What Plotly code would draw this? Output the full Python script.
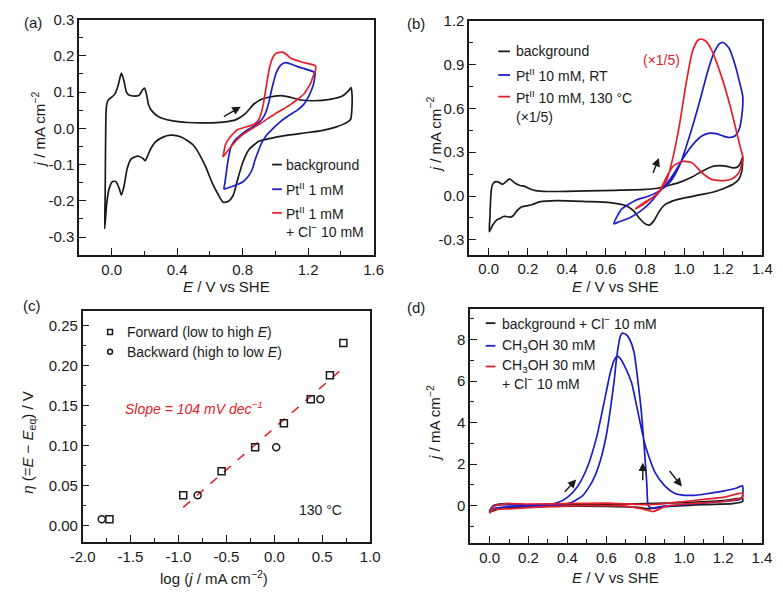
import plotly.graph_objects as go

W, H = 783, 592
FONT = "Liberation Sans, Arial, sans-serif"
BLACK = "#1a1a1a"
BLUE = "#1c1cc8"
RED = "#e3202a"

# ---------------- panel (a) data ----------------
a_bg_E = [-0.043, -0.040, -0.038, -0.035, -0.031, -0.02, 0.0, 0.02, 0.039, 0.059, 0.075, 0.09, 0.108, 0.138, 0.167,
          0.187, 0.2, 0.212, 0.225, 0.245, 0.286, 0.365, 0.463, 0.581, 0.68, 0.76, 0.82, 0.869, 0.919, 0.978, 1.037,
          1.096, 1.156, 1.235, 1.333, 1.412, 1.448, 1.462, 1.468, 1.467, 1.46, 1.44, 1.373, 1.274, 1.175, 1.077, 0.978,
          0.899, 0.84, 0.80, 0.77, 0.741, 0.711, 0.681, 0.652, 0.613, 0.573, 0.502, 0.424, 0.36, 0.31, 0.266, 0.24,
          0.22, 0.205, 0.19, 0.165, 0.14, 0.118, 0.095, 0.075, 0.059, 0.045, 0.025, 0.005, -0.015, -0.03, -0.043]
a_bg_j = [-0.277, -0.18, -0.06, 0.04, 0.065, 0.079, 0.086, 0.095, 0.118, 0.152, 0.13, 0.1, 0.091, 0.089, 0.091,
          0.105, 0.111, 0.095, 0.065, 0.048, 0.032, 0.021, 0.016, 0.015, 0.017, 0.024, 0.042, 0.067, 0.081, 0.087, 0.090,
          0.085, 0.078, 0.076, 0.080, 0.090, 0.104, 0.112, 0.095, 0.05, 0.025, 0.017, 0.004, -0.007, -0.013, -0.019, -0.027,
          -0.036, -0.058, -0.095, -0.14, -0.186, -0.202, -0.204, -0.184, -0.15, -0.105, -0.048, -0.024, -0.019, -0.025, -0.038, -0.055,
          -0.075, -0.089, -0.083, -0.077, -0.079, -0.085, -0.11, -0.16, -0.184, -0.165, -0.147, -0.147, -0.165, -0.205, -0.277]

a_pt_E = [0.686, 0.692, 0.699, 0.712, 0.729, 0.755, 0.778, 0.818, 0.857, 0.906, 0.93, 0.946, 0.962, 0.975, 0.99, 1.005,
          1.034, 1.064, 1.09, 1.15, 1.228, 1.242, 1.24, 1.232, 1.22, 1.204, 1.173, 1.134, 1.094, 1.055, 1.015, 0.975,
          0.946, 0.92, 0.906, 0.876, 0.857, 0.83, 0.80, 0.778, 0.74, 0.699, 0.686]
a_pt_j = [-0.167, -0.15, -0.125, -0.085, -0.051, -0.032, -0.022, -0.008, 0.003, 0.019, 0.033, 0.05, 0.075, 0.103, 0.13, 0.153,
          0.175, 0.181, 0.178, 0.168, 0.157, 0.153, 0.14, 0.12, 0.105, 0.089, 0.066, 0.05, 0.039, 0.027, 0.012, -0.005,
          -0.019, -0.037, -0.051, -0.087, -0.115, -0.135, -0.148, -0.153, -0.16, -0.166, -0.167]

a_ptcl_E = [0.680, 0.684, 0.695, 0.719, 0.768, 0.837, 0.872, 0.896, 0.912, 0.926, 0.946, 0.962, 0.975, 0.99, 1.005, 1.044,
            1.07, 1.094, 1.16, 1.232, 1.245, 1.245, 1.232, 1.212, 1.19, 1.173, 1.13, 1.094, 1.04, 0.995, 0.95, 0.916,
            0.87, 0.818, 0.78, 0.739, 0.71, 0.69, 0.680]
a_ptcl_j = [-0.078, -0.069, -0.045, -0.027, -0.004, 0.006, 0.012, 0.022, 0.04, 0.066, 0.121, 0.163, 0.185, 0.2, 0.207, 0.210,
            0.203, 0.193, 0.183, 0.175, 0.172, 0.16, 0.145, 0.121, 0.105, 0.094, 0.078, 0.066, 0.051, 0.039, 0.026, 0.015,
            0.003, -0.012, -0.025, -0.045, -0.062, -0.073, -0.078]

# ---------------- panel (b) data ----------------
b_bg_E = [0.003, 0.006, 0.009, 0.013, 0.02, 0.035, 0.05, 0.07, 0.09, 0.106, 0.12, 0.138, 0.16, 0.185, 0.21, 0.24, 0.3,
          0.4, 0.5, 0.65, 0.8, 0.87, 0.92, 0.98, 1.04, 1.1, 1.14, 1.18, 1.22, 1.25, 1.275, 1.29, 1.3, 1.295, 1.28, 1.25,
          1.2, 1.14, 1.06, 0.98, 0.93, 0.9, 0.87, 0.845, 0.822, 0.8, 0.77, 0.74, 0.7, 0.62, 0.5, 0.35, 0.26, 0.22, 0.19,
          0.165, 0.145, 0.125, 0.106, 0.09, 0.075, 0.06, 0.04, 0.02, 0.003]
b_bg_j = [-0.244, -0.15, -0.04, 0.04, 0.08, 0.098, 0.095, 0.08, 0.1, 0.117, 0.105, 0.085, 0.072, 0.066, 0.05, 0.037, 0.031,
          0.032, 0.035, 0.039, 0.045, 0.055, 0.072, 0.095, 0.13, 0.175, 0.2, 0.208, 0.203, 0.193, 0.2, 0.23, 0.27, 0.17, 0.115, 0.08,
          0.05, 0.024, 0.003, -0.02, -0.04, -0.06, -0.11, -0.17, -0.199, -0.19, -0.15, -0.1, -0.065, -0.045, -0.038, -0.032, -0.04, -0.06, -0.068,
          -0.076, -0.1, -0.135, -0.145, -0.14, -0.14, -0.152, -0.165, -0.2, -0.244]

b_rt_E = [0.64, 0.68, 0.75, 0.82, 0.88, 0.93, 0.98, 1.03, 1.08, 1.12, 1.15, 1.18, 1.2, 1.23, 1.26, 1.285, 1.3, 1.295, 1.28,
          1.26, 1.23, 1.2, 1.17, 1.13, 1.09, 1.05, 1.0, 0.96, 0.92, 0.88, 0.83, 0.78, 0.72, 0.66, 0.64]
b_rt_j = [-0.19, -0.09, -0.03, 0.0, 0.04, 0.10, 0.22, 0.42, 0.65, 0.85, 0.97, 1.04, 1.05, 1.01, 0.9, 0.77, 0.68, 0.55, 0.45,
          0.41, 0.40, 0.41, 0.425, 0.43, 0.41, 0.36, 0.27, 0.18, 0.10, 0.04, -0.04, -0.10, -0.15, -0.18, -0.19]

b_ht_E = [0.75, 0.798, 0.863, 0.912, 0.944, 0.977, 1.009, 1.042, 1.07, 1.09, 1.11, 1.14, 1.188, 1.237, 1.27, 1.29, 1.30,
          1.295, 1.275, 1.24, 1.2, 1.14, 1.091, 1.042, 0.993, 0.944, 0.912, 0.879, 0.83, 0.781, 0.75]
b_ht_j = [-0.087, -0.043, 0.013, 0.114, 0.271, 0.495, 0.763, 0.987, 1.065, 1.072, 1.06, 1.0, 0.83, 0.607, 0.428, 0.32, 0.27,
          0.22, 0.15, 0.115, 0.105, 0.114, 0.159, 0.226, 0.237, 0.204, 0.136, 0.047, -0.02, -0.065, -0.087]

# ---------------- panel (c) data ----------------
c_fwd_logj = [-1.72, -0.95, -0.55, -0.20, 0.10, 0.38, 0.58, 0.72]
c_fwd_eta = [0.008, 0.038, 0.068, 0.098, 0.128, 0.158, 0.188, 0.228]
c_bwd_logj = [-1.80, -0.80, 0.02, 0.48]
c_bwd_eta = [0.008, 0.038, 0.098, 0.158]
c_fit_logj = [-0.95, 0.72]
c_fit_eta = [0.023, 0.197]

# ---------------- panel (d) data ----------------
d_bg_E = [0.0, 0.02, 0.05, 0.1, 0.15, 0.3, 0.6, 0.8, 1.0, 1.2, 1.3, 1.3, 1.25, 1.1, 0.9, 0.82, 0.75, 0.6, 0.3, 0.1, 0.05, 0.0]
d_bg_j = [-0.3, 0.0, 0.08, 0.1, 0.05, 0.03, 0.05, 0.1, 0.15, 0.25, 0.35, 0.2, 0.1, 0.05, -0.05, -0.15, -0.07, -0.03, -0.03, -0.1, -0.15, -0.3]

d_meoh_E = [0.0, 0.02, 0.1, 0.2, 0.3, 0.35, 0.4, 0.45, 0.5, 0.55, 0.58, 0.6, 0.62, 0.64, 0.655, 0.67, 0.7, 0.73, 0.76, 0.8,
            0.85, 0.9, 0.95, 1.0, 1.05, 1.1, 1.2, 1.27, 1.3, 1.3, 1.29, 1.2, 1.1, 1.0, 0.9, 0.86, 0.83, 0.815, 0.808, 0.797,
            0.78, 0.762, 0.742, 0.72, 0.70, 0.68, 0.67, 0.66, 0.65, 0.64, 0.62, 0.6, 0.57, 0.53, 0.48, 0.42, 0.35, 0.25,
            0.1, 0.02, 0.0]
d_meoh_j = [-0.25, 0.0, 0.05, 0.03, 0.05, 0.15, 0.4, 0.9, 1.8, 3.3, 4.6, 5.5, 6.4, 7.0, 7.2, 7.1, 6.6, 5.9, 4.6, 2.9,
            1.6, 0.95, 0.6, 0.5, 0.5, 0.55, 0.7, 0.85, 0.95, 0.5, 0.3, 0.2, 0.12, 0.05, -0.02, -0.08, -0.12, 0.0, 1.0, 2.5,
            4.5, 6.0, 7.4, 8.0, 8.25, 8.3, 8.1, 7.6, 6.9, 6.0, 4.6, 3.4, 2.2, 1.2, 0.5, 0.15, 0.03, -0.02,
            -0.05, -0.15, -0.25]

d_cl_E = [0.0, 0.02, 0.05, 0.1, 0.2, 0.4, 0.6, 0.8, 0.9, 1.0, 1.1, 1.2, 1.3, 1.3, 1.2, 1.0, 0.9, 0.84, 0.78, 0.7, 0.5,
          0.3, 0.1, 0.02, 0.0]
d_cl_j = [-0.35, -0.05, 0.05, 0.1, 0.08, 0.1, 0.12, 0.05, 0.1, 0.2, 0.3, 0.4, 0.6, 0.4, 0.2, 0.08, -0.05, -0.28, -0.15, -0.02, 0.0,
          -0.05, -0.15, -0.2, -0.35]

# ---------------- tick labels ----------------
a_xticks = [0.0, 0.4, 0.8, 1.2, 1.6]
a_xtext = ["0.0", "0.4", "0.8", "1.2", "1.6"]
a_yticks = [-0.3, -0.2, -0.1, 0.0, 0.1, 0.2, 0.3]
a_ytext = ["-0.3", "-0.2", "-0.1", "0.0", "0.1", "0.2", "0.3"]
b_xticks = [0.0, 0.2, 0.4, 0.6, 0.8, 1.0, 1.2, 1.4]
b_xtext = ["0.0", "0.2", "0.4", "0.6", "0.8", "1.0", "1.2", "1.4"]
b_yticks = [-0.3, 0.0, 0.3, 0.6, 0.9, 1.2]
b_ytext = ["-0.3", "0.0", "0.3", "0.6", "0.9", "1.2"]
c_xticks = [-2.0, -1.5, -1.0, -0.5, 0.0, 0.5, 1.0]
c_xtext = ["-2.0", "-1.5", "-1.0", "-0.5", "0.0", "0.5", "1.0"]
c_yticks = [0.0, 0.05, 0.10, 0.15, 0.20, 0.25]
c_ytext = ["0.00", "0.05", "0.10", "0.15", "0.20", "0.25"]
d_xticks = b_xticks
d_xtext = b_xtext
d_yticks = [0, 2, 4, 6, 8]
d_ytext = ["0", "2", "4", "6", "8"]


def px(x):
    return x / W


def py(y):
    return 1 - y / H


fig = go.Figure()


def curve(E, J, color, n, width=1.7, dash="solid", spline=True):
    fig.add_trace(go.Scatter(
        x=E, y=J, mode="lines",
        line=dict(color=color, width=width, dash=dash,
                  shape="spline" if spline else "linear", smoothing=0.6),
        xaxis="x" + ("" if n == 1 else str(n)), yaxis="y" + ("" if n == 1 else str(n)),
        showlegend=False, hoverinfo="skip"))


curve(a_bg_E, a_bg_j, BLACK, 1)
curve(a_pt_E, a_pt_j, BLUE, 1)
curve(a_ptcl_E, a_ptcl_j, RED, 1)

curve(b_bg_E, b_bg_j, BLACK, 2)
curve(b_rt_E, b_rt_j, BLUE, 2)
curve(b_ht_E, b_ht_j, RED, 2)

curve(c_fit_logj, c_fit_eta, RED, 3, width=1.5, dash="dash", spline=False)
fig.add_trace(go.Scatter(x=c_fwd_logj, y=c_fwd_eta, mode="markers", xaxis="x3", yaxis="y3",
                         marker=dict(symbol="square-open", size=7, color=BLACK, line=dict(width=1.5)),
                         showlegend=False, hoverinfo="skip"))
fig.add_trace(go.Scatter(x=c_bwd_logj, y=c_bwd_eta, mode="markers", xaxis="x3", yaxis="y3",
                         marker=dict(symbol="circle-open", size=7, color=BLACK, line=dict(width=1.5)),
                         showlegend=False, hoverinfo="skip"))

curve(d_bg_E, d_bg_j, BLACK, 4)
curve(d_meoh_E, d_meoh_j, BLUE, 4)
curve(d_cl_E, d_cl_j, RED, 4)


def axis(dom, rng, tv, tt, minor_dtick, minor_tick0, anchor):
    return dict(
        domain=dom, range=rng, tickmode="array", tickvals=tv, ticktext=tt,
        ticks="inside", ticklen=7, tickwidth=1.4, tickcolor=BLACK,
        showline=True, linecolor=BLACK, linewidth=1.5, mirror=True,
        showgrid=False, zeroline=False, anchor=anchor,
        tickfont=dict(size=15, family=FONT, color=BLACK),
        minor=dict(ticks="inside", ticklen=4, tickwidth=1.4, tickcolor=BLACK,
                   dtick=minor_dtick, tick0=minor_tick0, showgrid=False),
    )


# domains (pixels -> paper)
A = dict(x=(68, 371.5), y=(10.7, 250))
B = dict(x=(470, 772), y=(11.7, 249.3))
C = dict(x=(71.7, 368), y=(306.7, 541))
D = dict(x=(471, 771.7), y=(305, 542.3))


def xd(p):
    return [px(p["x"][0]), px(p["x"][1])]


def yd(p):
    return [py(p["y"][1]), py(p["y"][0])]


fig.update_layout(
    width=W, height=H, margin=dict(l=0, r=0, t=0, b=0),
    paper_bgcolor="white", plot_bgcolor="white",
    font=dict(family=FONT, size=14, color=BLACK),
    xaxis=axis(xd(A), [-0.2, 1.6], a_xticks, a_xtext, 0.2, 0.2, "y"),
    yaxis=axis(yd(A), [-0.35, 0.3], a_yticks, a_ytext, 0.05, 0.05, "x"),
    xaxis2=axis(xd(B), [-0.1, 1.4], b_xticks, b_xtext, 0.1, 0.1, "y2"),
    yaxis2=axis(yd(B), [-0.4, 1.2], b_yticks, b_ytext, 0.15, 0.15, "x2"),
    xaxis3=axis(xd(C), [-2.0, 1.0], c_xticks, c_xtext, 0.25, 0.25, "y3"),
    yaxis3=axis(yd(C), [-0.02, 0.268], c_yticks, c_ytext, 0.025, 0.025, "x3"),
    xaxis4=axis(xd(D), [-0.1, 1.4], d_xticks, d_xtext, 0.1, 0.1, "y4"),
    yaxis4=axis(yd(D), [-1.8, 9.45], d_yticks, d_ytext, 1, 1, "x4"),
)

ann = []


def text(xp, yp, s, size=14, color=BLACK, xanchor="left", angle=0):
    ann.append(dict(x=px(xp), y=py(yp), xref="paper", yref="paper", text=s, showarrow=False,
                    xanchor=xanchor, yanchor="middle", textangle=angle,
                    font=dict(size=size, family=FONT, color=color)))


# panel labels
text(21, 14, "(a)", size=15, xanchor="center")
text(415, 15, "(b)", size=15, xanchor="center")
text(20, 301, "(c)", size=15, xanchor="center")
text(415, 303, "(d)", size=15, xanchor="center")

# axis titles
JT = "<i>j</i> / mA cm<sup>−2</sup>"
ET = "<i>E</i> / V vs SHE"
text(26, 122, JT, size=15, xanchor="center", angle=-90)
text(220, 282, ET, size=15, xanchor="center")
text(433, 127, JT, size=15, xanchor="center", angle=-90)
text(621, 282, ET, size=15, xanchor="center")
text(16, 440, "<i>η</i> (=<i>E</i> − <i>E</i><sub>eq</sub>) / V", size=15, xanchor="center", angle=-90)
text(207, 577, "log (<i>j</i> / mA cm<sup>−2</sup>)", size=15, xanchor="center")
text(433, 420, JT, size=15, xanchor="center", angle=-90)
text(621, 577, ET, size=15, xanchor="center")

shapes = []


def legline(x0, x1, yp, color):
    shapes.append(dict(type="line", xref="paper", yref="paper", x0=px(x0), x1=px(x1), y0=py(yp), y1=py(yp),
                       line=dict(color=color, width=1.8)))


# legend (a)
legline(267, 277, 158, BLACK)
legline(267, 277, 183, BLUE)
legline(267, 277, 207, RED)
text(279, 158, "background")
text(279, 183, "Pt<sup>II</sup> 1 mM")
text(279, 207, "Pt<sup>II</sup> 1 mM")
text(279, 225, "+ Cl<sup>−</sup> 10 mM")

# legend (b)
legline(500, 512, 43, BLACK)
legline(500, 512, 67, BLUE)
legline(500, 512, 89, RED)
text(516, 43, "background")
text(516, 67, "Pt<sup>II</sup> 10 mM, RT")
text(516, 89, "Pt<sup>II</sup> 10 mM, 130 °C")
text(516, 110, "(×1/5)")

# legend (c)
shapes.append(dict(type="rect", xref="paper", yref="paper", x0=px(97.5), x1=px(102.5), y0=py(330.5), y1=py(325.5),
                   line=dict(color=BLACK, width=1.5)))
shapes.append(dict(type="circle", xref="paper", yref="paper", x0=px(97.5), x1=px(102.5), y0=py(350.5), y1=py(345.5),
                   line=dict(color=BLACK, width=1.5)))
text(115, 328, "Forward (low to high <i>E</i>)")
text(115, 348, "Backward (high to low <i>E</i>)")

# legend (d)
legline(487, 497, 319, BLACK)
legline(487, 497, 342, BLUE)
legline(487, 497, 363, RED)
text(502, 319, "background + Cl<sup>−</sup> 10 mM")
text(502, 342, "CH<sub>3</sub>OH 30 mM")
text(502, 363, "CH<sub>3</sub>OH 30 mM")
text(502, 380, "+ Cl<sup>−</sup> 10 mM")

# in-plot data annotations
ann.append(dict(x=0.882, y=0.93, xref="x2", yref="y2", text="(×1/5)", showarrow=False,
                font=dict(size=14, family=FONT, color=RED)))
ann.append(dict(x=-0.833, y=0.1475, xref="x3", yref="y3", text="<i>Slope = 104 mV dec<sup>−1</sup></i>",
                showarrow=False, font=dict(size=14, family=FONT, color=RED)))
ann.append(dict(x=0.483, y=0.0197, xref="x3", yref="y3", text="130 °C", showarrow=False,
                font=dict(size=14, family=FONT, color=BLACK)))


def arrow(xa, ya, x0, y0, x1, y1):
    ann.append(dict(x=x1, y=y1, ax=x0, ay=y0, xref=xa, yref=ya, axref=xa, ayref=ya, text="",
                    showarrow=True, arrowhead=2, arrowsize=1.2, arrowwidth=1.4, arrowcolor=BLACK))


arrow("x", "y", 0.676, 0.030, 0.788, 0.0594)
arrow("x2", "y2", 0.838, 0.148, 0.871, 0.26)
arrow("x4", "y4", 0.379, 0.6, 0.445, 1.26)
arrow("x4", "y4", 0.787, 1.15, 0.787, 2.07)
arrow("x4", "y4", 0.919, 1.74, 0.988, 0.92)

fig.update_layout(annotations=ann, shapes=shapes)
fig.write_html("out.html", config={"displayModeBar": False},
               post_script="document.body.style.margin='0';document.body.style.overflow='hidden';")
